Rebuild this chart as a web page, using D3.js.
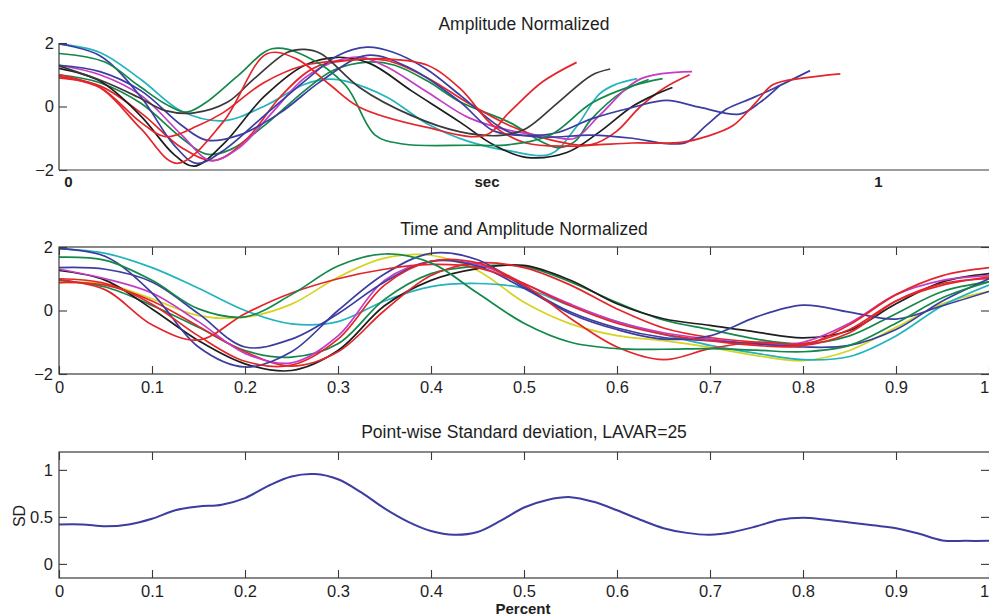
<!DOCTYPE html>
<html>
<head>
<meta charset="utf-8">
<script src="https://cdn.jsdelivr.net/npm/d3@7"></script>
<style>
  body { margin: 0; background: #fff; }
  svg { display: block; }
</style>
</head>
<body>
<svg id="chart" width="989" height="616"></svg>
<script>
// Registration figure: raw curves, time+amplitude normalized curves, point-wise SD

// --- raw (amplitude normalized) curves: [sec, value] pairs ---
const rawCyan = [[0,1.97],[0.05,1.7],[0.1,0.85],[0.15,-0.15],[0.2,-0.45],[0.25,0.0],[0.3,0.7],[0.33,0.86],[0.35,0.8],[0.4,0.3],[0.45,-0.55],[0.5,-1.1],[0.55,-1.4],[0.6,-1.5],[0.63,-0.7],[0.66,0.4],[0.68,0.7],[0.706,0.88]];
const rawBlueLong = [[0,1.97],[0.05,1.6],[0.1,0.3],[0.14,-1.2],[0.168,-1.79],[0.2,-1.4],[0.25,-0.3],[0.3,0.8],[0.34,1.6],[0.376,1.87],[0.408,1.71],[0.448,1.19],[0.49,0.35],[0.53,-0.5],[0.55,-0.81],[0.59,-0.97],[0.65,-0.9],[0.7,-1.0],[0.742,-1.17],[0.766,-1.13],[0.79,-0.6],[0.815,-0.08],[0.844,0.24],[0.872,0.56],[0.917,1.13]];
const rawBlueBump = [[0,1.3],[0.05,1.1],[0.1,0.5],[0.15,-0.6],[0.18,-1.06],[0.22,-0.9],[0.27,-0.2],[0.32,0.8],[0.376,1.61],[0.43,1.19],[0.49,0.14],[0.53,-0.76],[0.57,-0.91],[0.61,-0.81],[0.65,-0.39],[0.7,-0.03],[0.742,0.19],[0.783,-0.03],[0.831,-0.24],[0.856,0.13],[0.88,0.66]];
const rawGreen1 = [[0,1.67],[0.056,1.4],[0.097,0.66],[0.13,0.08],[0.155,-0.18],[0.178,0.1],[0.219,0.98],[0.26,1.82],[0.3,1.6],[0.35,0.66],[0.386,-0.9],[0.42,-1.18],[0.5,-1.22],[0.55,-1.2],[0.6,-0.9],[0.65,0.1],[0.7,0.65],[0.737,0.88]];
const rawGreen2 = [[0,1.0],[0.05,0.75],[0.1,0.1],[0.15,-1.0],[0.18,-1.5],[0.21,-1.35],[0.254,-0.53],[0.3,0.5],[0.335,1.14],[0.376,1.4],[0.41,1.3],[0.45,0.8],[0.49,0.14],[0.55,-0.5],[0.59,-1.12],[0.61,-1.3],[0.63,-1.1],[0.65,-0.4],[0.69,0.5],[0.72,0.85]];
const rawBlack1 = [[0,1.28],[0.056,0.77],[0.097,0.29],[0.13,-0.13],[0.165,-0.2],[0.206,0.14],[0.238,0.87],[0.279,1.71],[0.3,1.8],[0.32,1.66],[0.367,0.6],[0.43,-0.28],[0.49,-0.8],[0.54,-0.91],[0.57,-0.7],[0.61,0.14],[0.65,0.98],[0.673,1.18]];
const rawBlack2 = [[0,1.2],[0.05,0.8],[0.1,-0.3],[0.14,-1.5],[0.165,-1.88],[0.2,-1.2],[0.25,0.3],[0.3,1.3],[0.34,1.55],[0.38,1.35],[0.43,0.5],[0.49,-0.5],[0.53,-1.2],[0.57,-1.6],[0.62,-1.45],[0.66,-0.8],[0.7,0.0],[0.73,0.4],[0.749,0.6]];
const rawRedShort = [[0,1.0],[0.05,0.6],[0.1,-0.7],[0.144,-1.79],[0.2,-0.5],[0.254,1.66],[0.29,1.5],[0.33,0.7],[0.367,-0.02],[0.448,-0.65],[0.52,-0.91],[0.55,-0.18],[0.59,0.77],[0.632,1.39]];
const rawRedLong = [[0,0.95],[0.05,0.6],[0.1,-0.5],[0.13,-0.95],[0.17,-0.6],[0.2,-0.2],[0.25,0.75],[0.3,1.3],[0.35,1.45],[0.4,1.5],[0.45,1.3],[0.49,0.56],[0.53,-0.6],[0.57,-1.15],[0.62,-1.25],[0.66,-1.2],[0.7,-1.15],[0.76,-1.13],[0.79,-0.95],[0.823,-0.6],[0.85,0.1],[0.872,0.69],[0.91,0.9],[0.954,1.03]];
const rawMagenta = [[0,1.3],[0.05,1.0],[0.1,0.35],[0.15,-0.9],[0.185,-1.7],[0.22,-1.3],[0.26,-0.2],[0.3,0.9],[0.34,1.45],[0.37,1.55],[0.4,1.25],[0.45,0.45],[0.5,-0.35],[0.55,-0.75],[0.6,-0.95],[0.63,-1.0],[0.66,-0.28],[0.71,0.87],[0.773,1.1]];
const rawRed3 = [[0,0.9],[0.05,0.65],[0.1,-0.2],[0.15,-1.3],[0.19,-1.7],[0.23,-1.0],[0.27,0.3],[0.31,1.2],[0.35,1.45],[0.4,1.45],[0.45,0.9],[0.5,0.1],[0.55,-0.6],[0.6,-1.05],[0.65,-1.2],[0.68,-0.8],[0.71,0.0],[0.74,0.6],[0.77,1.0]];

// --- time + amplitude normalized curves, sampled on percentGrid ---
const percentGrid = [0, 0.05, 0.1, 0.15, 0.2, 0.25, 0.3, 0.35, 0.4, 0.45, 0.5, 0.55, 0.6, 0.65, 0.7, 0.75, 0.8, 0.85, 0.9, 0.95, 1];
const normCyan    = [1.95, 1.8, 1.35, 0.7, 0.0, -0.42, -0.35, 0.3, 0.75, 0.85, 0.7, 0.15, -0.35, -0.75, -1.1, -1.35, -1.55, -1.45, -0.8, 0.15, 0.8];
const normBlue1   = [1.95, 1.7, 0.55, -1.15, -1.78, -1.3, 0.0, 1.15, 1.8, 1.6, 0.75, -0.05, -0.55, -0.85, -0.95, -1.05, -1.15, -1.1, -0.6, 0.3, 1.0];
const normBlue2   = [1.35, 1.3, 0.9, -0.1, -1.15, -0.9, -0.1, 0.9, 1.55, 1.4, 0.7, -0.1, -0.6, -0.9, -0.8, -0.2, 0.17, -0.05, -0.27, 0.15, 0.6];
const normGreen1  = [1.68, 1.58, 0.95, 0.05, -0.2, 0.5, 1.4, 1.78, 1.5, 0.55, -0.4, -1.0, -1.2, -1.22, -1.2, -1.25, -1.3, -1.1, -0.4, 0.4, 0.9];
const normYellow  = [0.88, 0.84, 0.37, -0.16, -0.21, 0.2, 1.05, 1.65, 1.74, 1.26, 0.26, -0.42, -0.79, -0.95, -1.16, -1.42, -1.58, -1.26, -0.53, 0.21, 0.6];
const normRed1    = [0.97, 0.65, -0.45, -0.93, -0.1, 0.55, 1.0, 1.3, 1.45, 1.35, 0.8, -0.25, -1.15, -1.55, -1.2, -1.0, -1.05, -0.6, 0.3, 0.8, 1.05];
const normBlack   = [1.26, 0.95, 0.05, -0.95, -1.68, -1.89, -1.26, 0.15, 0.95, 1.32, 1.42, 0.95, 0.21, -0.26, -0.47, -0.68, -0.86, -0.63, 0.21, 0.9, 1.16];
const normGreen2  = [0.95, 0.74, 0.16, -0.53, -1.26, -1.47, -1.05, 0.35, 1.16, 1.39, 1.39, 0.9, 0.25, -0.3, -0.6, -0.9, -1.05, -0.8, -0.1, 0.6, 0.9];
const normMagenta = [1.3, 1.0, 0.55, -0.35, -1.35, -1.65, -0.8, 0.95, 1.55, 1.45, 0.85, 0.2, -0.35, -0.7, -0.9, -1.05, -1.0, -0.4, 0.5, 0.95, 1.1];
const normRed2    = [1.0, 0.85, 0.2, -0.8, -1.6, -1.72, -0.9, 0.8, 1.55, 1.5, 0.85, 0.15, -0.4, -0.75, -0.95, -1.1, -1.1, -0.45, 0.5, 1.1, 1.35];
const normRed3    = [0.88, 0.8, 0.3, -0.5, -1.3, -1.75, -1.3, 0.0, 1.1, 1.5, 1.35, 0.8, 0.05, -0.55, -0.85, -1.0, -1.1, -0.7, 0.3, 0.85, 1.0];

// --- point-wise standard deviation ---
const sdGrid = [0, 0.025, 0.05, 0.075, 0.1, 0.125, 0.15, 0.175, 0.2, 0.225, 0.25, 0.275, 0.3, 0.325, 0.35, 0.375, 0.4, 0.425, 0.45, 0.475, 0.5, 0.525, 0.55, 0.575, 0.6, 0.625, 0.65, 0.675, 0.7, 0.725, 0.75, 0.775, 0.8, 0.825, 0.85, 0.875, 0.9, 0.925, 0.95, 0.975, 1];
const sdValues = [0.42, 0.42, 0.40, 0.42, 0.48, 0.57, 0.61, 0.63, 0.70, 0.83, 0.93, 0.955, 0.90, 0.76, 0.59, 0.45, 0.35, 0.31, 0.34, 0.46, 0.60, 0.68, 0.71, 0.66, 0.57, 0.47, 0.38, 0.33, 0.31, 0.34, 0.40, 0.47, 0.49, 0.47, 0.44, 0.41, 0.38, 0.32, 0.25, 0.245, 0.245];

// --- tick labels ---
const topXTicks = [0.011, 0.522, 1];
const topXLabels = ["0", "sec", "1"];
const ampTicks = [-2, 0, 2];
const percentTicks = [0, 0.1, 0.2, 0.3, 0.4, 0.5, 0.6, 0.7, 0.8, 0.9, 1];
const sdTicks = [0, 0.5, 1];

const FONT = '"Liberation Sans", Arial, Helvetica, sans-serif';
const AXIS = "#3a3a3a";
const C = {
  red: "#e3262b", black: "#1e1e1e", gray: "#3a3a3a", green: "#13884a",
  cyan: "#22b3bf", blue: "#3b3da0", magenta: "#c43cc6", yellow: "#d6d41e"
};

const rawSeries = [
  { data: rawCyan, color: C.cyan },
  { data: rawGreen2, color: C.green },
  { data: rawRed3, color: C.red },
  { data: rawBlack2, color: C.black },
  { data: rawMagenta, color: C.magenta },
  { data: rawBlueBump, color: C.blue },
  { data: rawBlueLong, color: C.blue },
  { data: rawRedLong, color: C.red },
  { data: rawGreen1, color: C.green },
  { data: rawBlack1, color: C.gray },
  { data: rawRedShort, color: C.red }
];

const normSeries = [
  { values: normYellow, color: C.yellow },
  { values: normCyan, color: C.cyan },
  { values: normGreen2, color: C.green },
  { values: normBlack, color: C.black },
  { values: normRed3, color: C.red },
  { values: normMagenta, color: C.magenta },
  { values: normBlue2, color: C.blue },
  { values: normBlue1, color: C.blue },
  { values: normRed2, color: C.red },
  { values: normRed1, color: C.red },
  { values: normGreen1, color: C.green }
];

const svg = d3.select("#chart");

const xRaw = d3.scaleLinear().domain([0, 1]).range([59, 878]);
const xPct = d3.scaleLinear().domain([0, 1]).range([59, 989]);
const yTop = d3.scaleLinear().domain([-2, 2]).range([170, 43]);
const yMid = d3.scaleLinear().domain([-2, 2]).range([374, 247]);
const ySd = d3.scaleLinear().domain([-0.15, 1.19]).range([578, 452]);

const intFmt = d3.format("d");

function styleAxis(g, size, weight) {
  g.select(".domain").remove();
  g.attr("font-family", FONT).attr("font-size", size);
  g.selectAll(".tick line").attr("stroke", AXIS).attr("stroke-width", 1.1);
  g.selectAll(".tick text").attr("fill", "#1e1e1e").attr("font-weight", weight || "normal");
}

// last percent label sits on the window edge; keep it readable
function pullLastLabel(g) {
  g.selectAll(".tick text").filter(d => d === 1).attr("dx", -5);
}

function title(txt, y) {
  svg.append("text")
    .attr("x", 524).attr("y", y)
    .attr("text-anchor", "middle")
    .attr("font-family", FONT).attr("font-size", 17.5)
    .attr("fill", "#1e1e1e")
    .text(txt);
}

// ---------- top panel ----------
title("Amplitude Normalized", 30);

const rawLine = d3.line()
  .x(d => xRaw(d[0]))
  .y(d => yTop(d[1]))
  .curve(d3.curveCatmullRom.alpha(0.5));

svg.append("g")
  .selectAll("path")
  .data(rawSeries)
  .join("path")
  .attr("fill", "none")
  .attr("stroke", d => d.color)
  .attr("stroke-width", 1.7)
  .attr("d", d => rawLine(d.data));

svg.append("line").attr("x1", 59).attr("x2", 59).attr("y1", yTop(2)).attr("y2", yTop(-2))
  .attr("stroke", AXIS).attr("stroke-width", 1.2);
svg.append("line").attr("x1", 59).attr("x2", 990).attr("y1", yTop(-2)).attr("y2", yTop(-2))
  .attr("stroke", AXIS).attr("stroke-width", 1.2);

svg.append("g").attr("transform", "translate(59,0)")
  .call(d3.axisLeft(yTop).tickValues(ampTicks).tickSize(-8).tickPadding(5).tickFormat(intFmt))
  .call(g => styleAxis(g, 16.5));

svg.append("g").attr("transform", `translate(0,${yTop(-2)})`)
  .call(d3.axisBottom(xRaw).tickValues(topXTicks).tickSize(0).tickPadding(6)
    .tickFormat((d, i) => topXLabels[i]))
  .call(g => styleAxis(g, 15, "bold"));

// ---------- middle panel ----------
title("Time and Amplitude Normalized", 235);

svg.append("clipPath").attr("id", "clipMid")
  .append("rect").attr("x", 59).attr("y", 246).attr("width", 931).attr("height", 129);

const normLine = d3.line()
  .x((d, i) => xPct(percentGrid[i]))
  .y(d => yMid(d))
  .curve(d3.curveCatmullRom.alpha(0.5));

svg.append("g").attr("clip-path", "url(#clipMid)")
  .selectAll("path")
  .data(normSeries)
  .join("path")
  .attr("fill", "none")
  .attr("stroke", d => d.color)
  .attr("stroke-width", 1.7)
  .attr("d", d => normLine(d.values));

svg.append("rect").attr("x", 59).attr("y", 247).attr("width", 931).attr("height", 127)
  .attr("fill", "none").attr("stroke", AXIS).attr("stroke-width", 1.2);

svg.append("g").attr("transform", "translate(59,0)")
  .call(d3.axisLeft(yMid).tickValues(ampTicks).tickSize(-8).tickPadding(6).tickFormat(intFmt))
  .call(g => styleAxis(g, 16.5));
svg.append("g").attr("transform", "translate(989,0)")
  .call(d3.axisRight(yMid).tickValues(ampTicks).tickSize(-8).tickFormat(""))
  .call(g => styleAxis(g, 16.5));
svg.append("g").attr("transform", "translate(0,247)")
  .call(d3.axisTop(xPct).tickValues(percentTicks).tickSize(-8).tickFormat(""))
  .call(g => styleAxis(g, 16.5));
svg.append("g").attr("transform", "translate(0,374)")
  .call(d3.axisBottom(xPct).tickValues(percentTicks).tickSize(-8).tickPadding(7)
    .tickFormat(d => String(d)))
  .call(g => styleAxis(g, 16.5))
  .call(pullLastLabel);

// ---------- bottom panel ----------
title("Point-wise Standard deviation, LAVAR=25", 438);

const sdLine = d3.line()
  .x((d, i) => xPct(sdGrid[i]))
  .y(d => ySd(d))
  .curve(d3.curveCatmullRom.alpha(0.5));

svg.append("path")
  .datum(sdValues)
  .attr("fill", "none")
  .attr("stroke", C.blue)
  .attr("stroke-width", 2)
  .attr("d", sdLine);

svg.append("rect").attr("x", 59).attr("y", 452).attr("width", 931).attr("height", 126)
  .attr("fill", "none").attr("stroke", AXIS).attr("stroke-width", 1.2);

svg.append("g").attr("transform", "translate(59,0)")
  .call(d3.axisLeft(ySd).tickValues(sdTicks).tickSize(-8).tickPadding(6)
    .tickFormat(d => String(d)))
  .call(g => styleAxis(g, 16.5));
svg.append("g").attr("transform", "translate(989,0)")
  .call(d3.axisRight(ySd).tickValues(sdTicks).tickSize(-8).tickFormat(""))
  .call(g => styleAxis(g, 16.5));
svg.append("g").attr("transform", "translate(0,452)")
  .call(d3.axisTop(xPct).tickValues(percentTicks).tickSize(-8).tickFormat(""))
  .call(g => styleAxis(g, 16.5));
svg.append("g").attr("transform", "translate(0,578)")
  .call(d3.axisBottom(xPct).tickValues(percentTicks).tickSize(-8).tickPadding(7)
    .tickFormat(d => String(d)))
  .call(g => styleAxis(g, 16.5))
  .call(pullLastLabel);

svg.append("text")
  .attr("transform", "translate(25,516) rotate(-90)")
  .attr("text-anchor", "middle")
  .attr("font-family", FONT).attr("font-size", 16)
  .attr("fill", "#1e1e1e")
  .text("SD");

svg.append("text")
  .attr("x", 523).attr("y", 614)
  .attr("text-anchor", "middle")
  .attr("font-family", FONT).attr("font-size", 15).attr("font-weight", "bold")
  .attr("fill", "#1e1e1e")
  .text("Percent");
</script>
</body>
</html>
